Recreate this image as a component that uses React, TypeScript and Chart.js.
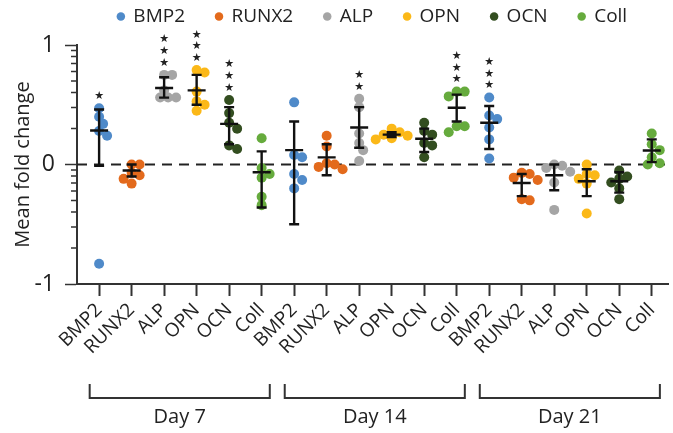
import React, { useEffect, useRef } from 'react';
import { Chart, registerables } from 'chart.js';

Chart.register(...registerables);

// ---------- data ----------
const genes = ['BMP2', 'RUNX2', 'ALP', 'OPN', 'OCN', 'Coll'];
const days = ['Day 7', 'Day 14', 'Day 21'];
const geneColors = ['#4f8ac9', '#e36a1c', '#a5a5a5', '#fbb818', '#334e20', '#66ab3d'];
const yTickValues = [-1, 0, 1];

// replicate values (log10 fold change), one row per day
const bmp2Values = [
  [0.47, 0.4, 0.34, 0.28, 0.24, -0.83],
  [0.52, 0.08, 0.06, -0.08, -0.13, -0.2],
  [0.56, 0.41, 0.38, 0.31, 0.21, 0.05],
];
const runx2Values = [
  [0.0, 0.0, -0.07, -0.09, -0.12, -0.16],
  [0.24, 0.15, 0.01, 0.0, -0.02, -0.04],
  [-0.07, -0.08, -0.11, -0.13, -0.29, -0.3],
];
const alpValues = [
  [0.75, 0.75, 0.62, 0.56, 0.56, 0.56],
  [0.55, 0.48, 0.26, 0.18, 0.12, 0.03],
  [0.0, -0.01, -0.03, -0.06, -0.15, -0.38],
];
const opnValues = [
  [0.79, 0.77, 0.61, 0.53, 0.5, 0.45],
  [0.3, 0.27, 0.25, 0.24, 0.22, 0.21],
  [0.0, -0.08, -0.09, -0.12, -0.16, -0.41],
];
const ocnValues = [
  [0.54, 0.43, 0.35, 0.3, 0.16, 0.13],
  [0.35, 0.28, 0.25, 0.18, 0.16, 0.06],
  [-0.05, -0.1, -0.12, -0.15, -0.2, -0.29],
];
const collValues = [
  [0.22, -0.03, -0.08, -0.11, -0.27, -0.34],
  [0.61, 0.61, 0.57, 0.32, 0.32, 0.27],
  [0.26, 0.17, 0.12, 0.06, 0.01, 0.0],
];

// mean and error-bar ends per gene, one entry per day
const bmp2Mean = [0.285, 0.12, 0.35];
const bmp2Hi = [0.46, 0.36, 0.49];
const bmp2Lo = [-0.01, -0.5, 0.13];
const runx2Mean = [-0.05, 0.06, -0.155];
const runx2Hi = [0.0, 0.17, -0.08];
const runx2Lo = [-0.1, -0.09, -0.265];
const alpMean = [0.64, 0.31, -0.09];
const alpHi = [0.73, 0.48, 0.0];
const alpLo = [0.56, 0.14, -0.215];
const opnMean = [0.62, 0.25, -0.14];
const opnHi = [0.75, 0.27, -0.04];
const opnLo = [0.5, 0.23, -0.265];
const ocnMean = [0.34, 0.215, -0.14];
const ocnHi = [0.48, 0.3, -0.065];
const ocnLo = [0.17, 0.105, -0.235];
const collMean = [-0.065, 0.475, 0.117];
const collHi = [0.11, 0.585, 0.21];
const collLo = [-0.36, 0.36, 0.02];

// significance stars per gene, one entry per day
const bmp2Stars = [1, 0, 3];
const runx2Stars = [0, 0, 0];
const alpStars = [3, 2, 0];
const opnStars = [3, 0, 0];
const ocnStars = [3, 0, 0];
const collStars = [0, 3, 0];

const allValues = [bmp2Values, runx2Values, alpValues, opnValues, ocnValues, collValues];
const allMeans = [bmp2Mean, runx2Mean, alpMean, opnMean, ocnMean, collMean];
const allHi = [bmp2Hi, runx2Hi, alpHi, opnHi, ocnHi, collHi];
const allLo = [bmp2Lo, runx2Lo, alpLo, opnLo, ocnLo, collLo];
const allStars = [bmp2Stars, runx2Stars, alpStars, opnStars, ocnStars, collStars];

// log10 minor tick positions (fold 2..9 and 0.2..0.9)
const minorFolds = [2, 3, 4, 5, 6, 7, 8, 9, 0.2, 0.3, 0.4, 0.5, 0.6, 0.7, 0.8, 0.9];

// ---------- layout constants ----------
const W = 673;
const H = 433;
const FONT = '"Open Sans", "Noto Sans", sans-serif';
const TEXT = '#222';
const AXIS = '#333';
const X_PX_PER_UNIT = 32.6;
const Y_PX_PER_UNIT = 119.5;
const LEGEND_PAD = 31;
const TOP_SHIFT = -24;
const LEGEND_H = 69;

const catIndex = (g: number, d: number) => d * 6 + g;

// deterministic beeswarm offsets (category units)
function swarm(values: number[]): number[] {
  const order = values.map((v, i) => i).sort((a, b) => values[b] - values[a]);
  const placed: { x: number; y: number }[] = [];
  const out = new Array(values.length).fill(0);
  const minD = 8;
  const cands = [0, 4, -4, 8, -8, 12, -12, 16, -16];
  for (const i of order) {
    const py = values[i] * Y_PX_PER_UNIT;
    let chosen = 0;
    for (const c of cands) {
      if (placed.every((p) => Math.hypot(p.x - c, p.y - py) >= minD)) {
        chosen = c;
        break;
      }
    }
    placed.push({ x: chosen, y: py });
    out[i] = chosen / X_PX_PER_UNIT;
  }
  return out;
}

// keeps the legend band a fixed height so the plot area starts where the reference's does
const legendHeightPlugin = {
  id: 'legendHeight',
  beforeLayout(chart: any) {
    const lg = chart.legend;
    if (lg && !lg.__patched) {
      const orig = lg.fit;
      lg.fit = function () {
        orig.call(this);
        this.height = LEGEND_H;
      };
      lg.__patched = true;
    }
  },
};

const groupPlugin = {
  id: 'groupDecor',
  beforeDatasetsDraw(chart: any) {
    const { ctx, chartArea, scales } = chart;
    const y0 = scales.y.getPixelForValue(0);
    ctx.save();
    ctx.strokeStyle = '#222';
    ctx.lineWidth = 2;
    ctx.setLineDash([10, 7]);
    ctx.beginPath();
    ctx.moveTo(chartArea.left, y0);
    ctx.lineTo(chartArea.right, y0);
    ctx.stroke();
    ctx.restore();
  },
  afterDatasetsDraw(chart: any) {
    const { ctx, scales } = chart;
    const xs = scales.x;
    const ys = scales.y;
    ctx.save();
    ctx.strokeStyle = '#111';
    ctx.lineWidth = 2.4;
    for (let g = 0; g < 6; g++) {
      for (let d = 0; d < 3; d++) {
        const cx = xs.getPixelForValue(catIndex(g, d));
        const yHi = ys.getPixelForValue(allHi[g][d]);
        const yLo = ys.getPixelForValue(allLo[g][d]);
        const yM = ys.getPixelForValue(allMeans[g][d]);
        ctx.beginPath();
        ctx.moveTo(cx, yHi);
        ctx.lineTo(cx, yLo);
        ctx.moveTo(cx - 5, yHi);
        ctx.lineTo(cx + 5, yHi);
        ctx.moveTo(cx - 5, yLo);
        ctx.lineTo(cx + 5, yLo);
        ctx.moveTo(cx - 9, yM);
        ctx.lineTo(cx + 9, yM);
        ctx.stroke();
        const n = allStars[g][d];
        if (n > 0) {
          const top = Math.min(
            ys.getPixelForValue(Math.max(...allValues[g][d])) - 5,
            yHi
          );
          ctx.fillStyle = '#222';
          ctx.font = '11px "DejaVu Sans"';
          ctx.textAlign = 'center';
          ctx.textBaseline = 'middle';
          for (let k = 0; k < n; k++) {
            ctx.fillText('★', cx, top - 7 - k * 11.7);
          }
        }
      }
    }
    ctx.restore();
  },
  afterDraw(chart: any) {
    const { ctx, chartArea, scales } = chart;
    const xs = scales.x;
    const ys = scales.y;
    ctx.save();
    ctx.strokeStyle = AXIS;
    ctx.lineWidth = 1.5;
    ctx.beginPath();
    for (const f of minorFolds) {
      const py = ys.getPixelForValue(Math.log10(f));
      ctx.moveTo(chartArea.left - 6, py);
      ctx.lineTo(chartArea.left, py);
    }
    ctx.stroke();
    ctx.lineWidth = 2;
    const yTop = 384;
    const yBot = 398;
    for (let d = 0; d < 3; d++) {
      const x1 = xs.getPixelForValue(d * 6 - 0.29);
      const x2 = xs.getPixelForValue(d * 6 + 5.25);
      ctx.beginPath();
      ctx.moveTo(x1, yTop);
      ctx.lineTo(x1, yBot);
      ctx.lineTo(x2, yBot);
      ctx.lineTo(x2, yTop);
      ctx.stroke();
      ctx.fillStyle = TEXT;
      ctx.font = '20px ' + FONT;
      ctx.textAlign = 'center';
      ctx.textBaseline = 'middle';
      ctx.fillText(days[d], (x1 + x2) / 2, 417);
    }
    ctx.restore();
  },
};

export default function App() {
  const ref = useRef<HTMLCanvasElement | null>(null);
  useEffect(() => {
    if (!ref.current) return;
    const datasets = genes.map((gene, g) => {
      const data: { x: number; y: number }[] = [];
      for (let d = 0; d < 3; d++) {
        const vals = allValues[g][d];
        const off = swarm(vals);
        vals.forEach((v, i) => data.push({ x: catIndex(g, d) + off[i], y: v }));
      }
      return {
        label: gene,
        data,
        backgroundColor: geneColors[g],
        borderColor: geneColors[g],
        borderWidth: 0,
        pointRadius: 5,
        pointStyle: 'circle',
      };
    });
    const chart = new Chart(ref.current, {
      type: 'scatter',
      data: { datasets },
      plugins: [legendHeightPlugin, groupPlugin],
      options: {
        animation: false,
        responsive: false,
        events: [],
        layout: { padding: { top: TOP_SHIFT, right: 3, left: 0, bottom: 0 } },
        plugins: {
          tooltip: { enabled: false },
          legend: {
            display: true,
            position: 'top',
            fullSize: false,
            labels: {
              usePointStyle: true,
              pointStyle: 'circle',
              boxWidth: 6,
              boxHeight: 6,
              padding: LEGEND_PAD,
              color: TEXT,
              font: { family: FONT, size: 19 },
            },
          },
        },
        scales: {
          x: {
            type: 'linear',
            min: -0.68,
            max: 17.5,
            afterBuildTicks: (scale: any) => {
              scale.ticks = Array.from({ length: 18 }, (_, i) => ({ value: i }));
            },
            afterFit: (scale: any) => {
              scale.height = 149;
            },
            ticks: {
              autoSkip: false,
              minRotation: 45,
              maxRotation: 45,
              padding: 3,
              color: TEXT,
              font: { family: FONT, size: 19 },
              callback: (v: any) => genes[Math.round(Number(v)) % 6],
            },
            grid: {
              drawOnChartArea: false,
              drawTicks: true,
              tickLength: 12,
              tickWidth: 2,
              tickColor: AXIS,
            },
            border: { color: AXIS, width: 2 },
          },
          y: {
            type: 'linear',
            min: -1,
            max: 1,
            afterBuildTicks: (scale: any) => {
              scale.ticks = yTickValues.map((v) => ({ value: v }));
            },
            afterFit: (scale: any) => {
              scale.width = 77;
            },
            ticks: {
              padding: 10,
              color: TEXT,
              font: { family: FONT, size: 23 },
              callback: (v: any) => String(v),
            },
            grid: {
              drawOnChartArea: false,
              drawTicks: true,
              tickLength: 12,
              tickWidth: 1.5,
              tickColor: AXIS,
            },
            border: { color: AXIS, width: 2 },
            title: {
              display: true,
              text: 'Mean fold change',
              color: TEXT,
              font: { family: FONT, size: 20 },
              padding: { top: 11, bottom: 0 },
            },
          },
        },
      },
    } as any);
    return () => chart.destroy();
  }, []);
  return (
    <div style={{ position: 'absolute', left: 0, top: 0, width: W, height: H, background: '#fff' }}>
      <canvas ref={ref} width={W} height={H} style={{ display: 'block' }} />
    </div>
  );
}
